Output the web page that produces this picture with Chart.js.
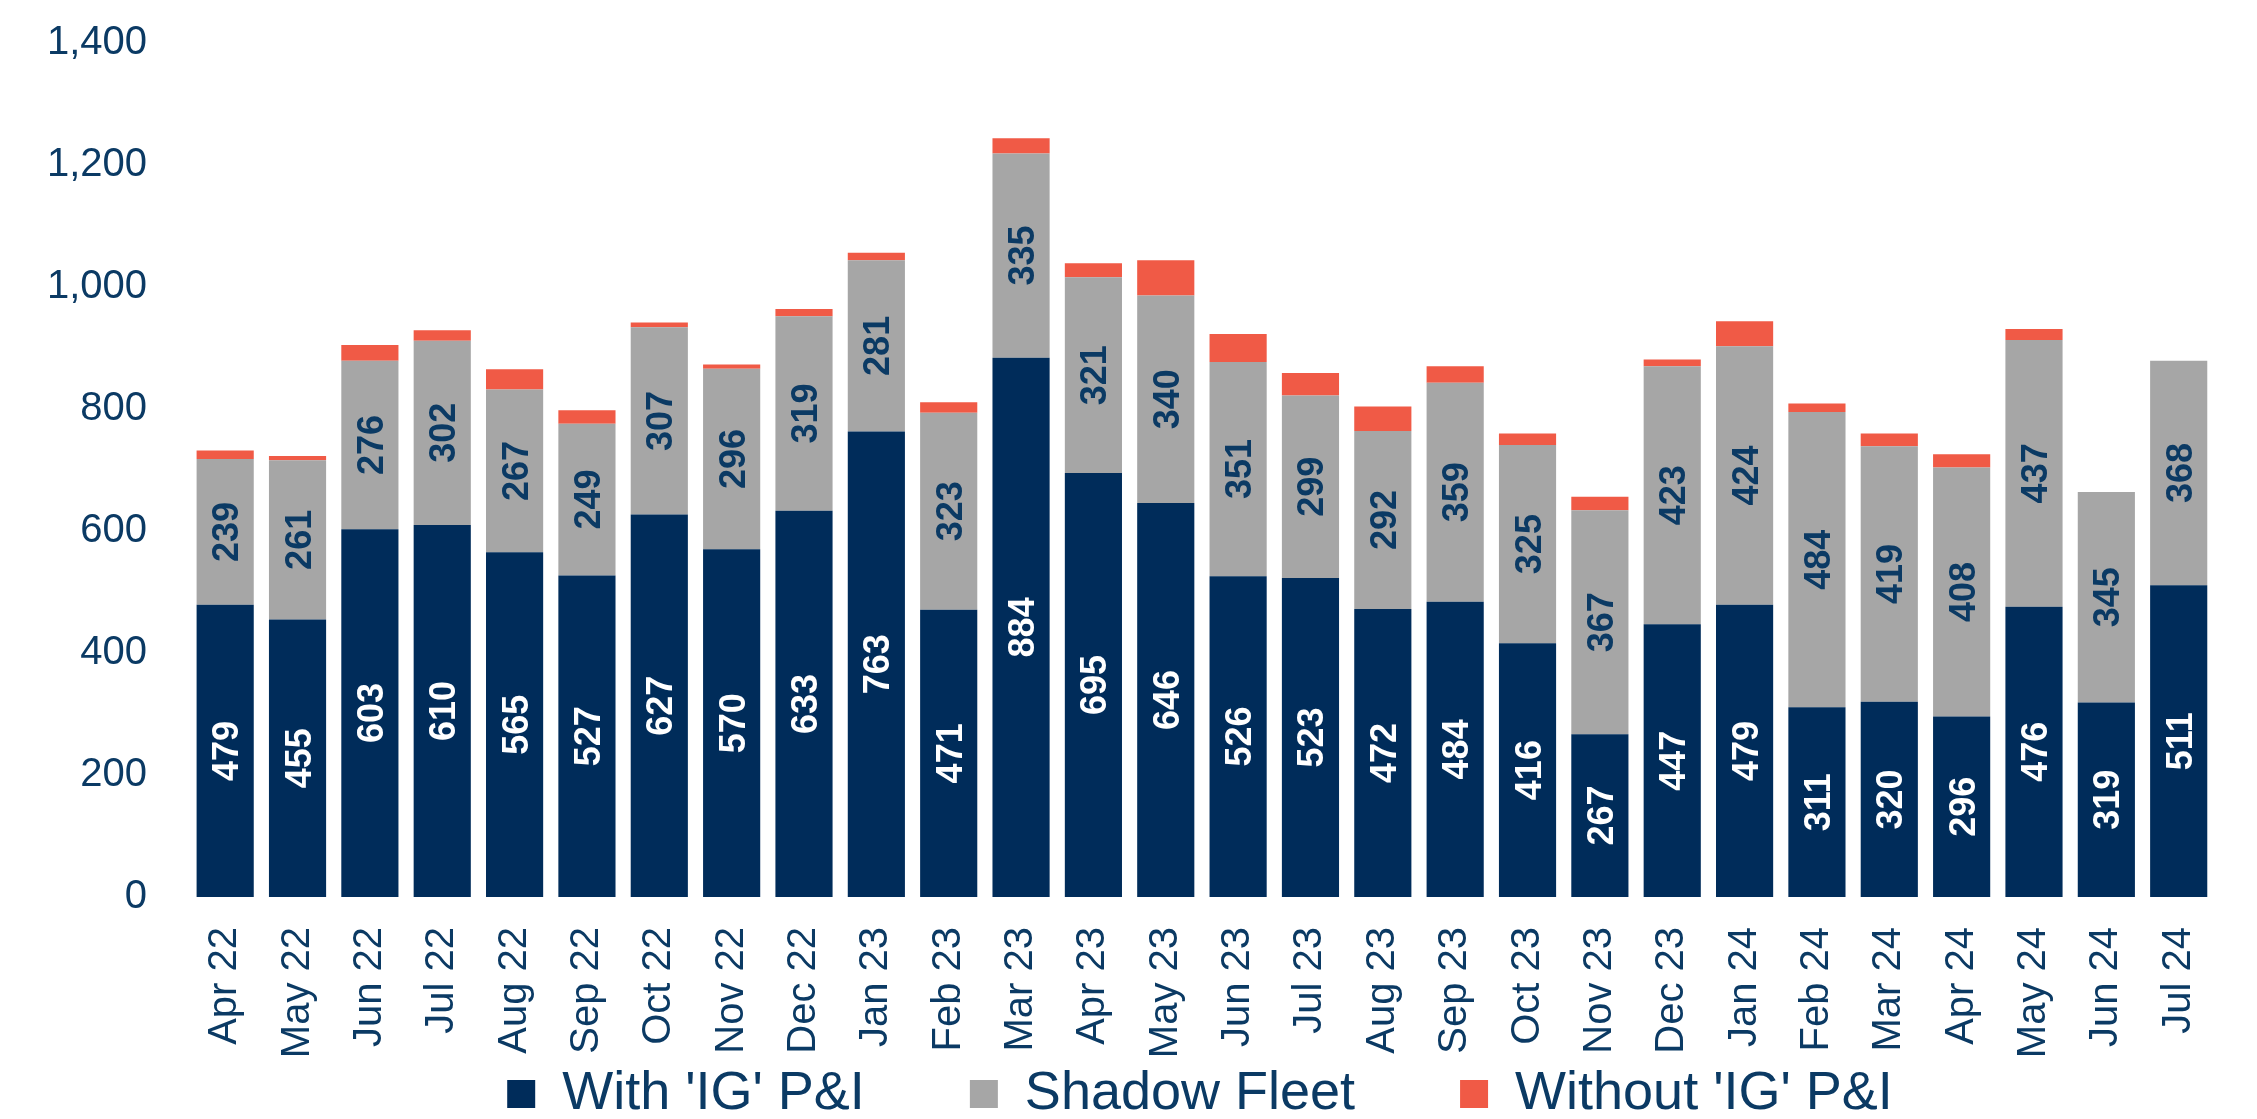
<!DOCTYPE html>
<html>
<head>
<meta charset="utf-8">
<script src="https://cdn.jsdelivr.net/npm/chart.js@4/dist/chart.umd.min.js"></script>
<style>
  html, body { margin: 0; padding: 0; background: #fff; overflow: hidden; }
  #wrap { width: 2257px; height: 1119px; position: relative; }
</style>
</head>
<body>
<div id="wrap"><canvas id="fleetChart"></canvas></div>
<script>
const months = ["Apr 22", "May 22", "Jun 22", "Jul 22", "Aug 22", "Sep 22", "Oct 22", "Nov 22", "Dec 22",
  "Jan 23", "Feb 23", "Mar 23", "Apr 23", "May 23", "Jun 23", "Jul 23", "Aug 23", "Sep 23", "Oct 23", "Nov 23", "Dec 23",
  "Jan 24", "Feb 24", "Mar 24", "Apr 24", "May 24", "Jun 24", "Jul 24"];
const withIG = [479, 455, 603, 610, 565, 527, 627, 570, 633, 763, 471, 884, 695, 646, 526, 523, 472, 484, 416, 267, 447, 479, 311, 320, 296, 476, 319, 511];
const shadowFleet = [239, 261, 276, 302, 267, 249, 307, 296, 319, 281, 323, 335, 321, 340, 351, 299, 292, 359, 325, 367, 423, 424, 484, 419, 408, 437, 345, 368];
const withoutIG = [14, 7, 26, 17, 33, 22, 8, 7, 12, 12, 17, 25, 23, 58, 46, 37, 40, 27, 19, 22, 11, 41, 14, 21, 22, 18, 0, 0];

const navy = "#002c5a";
const grey = "#a6a6a6";
const red = "#f05a46";
const textNavy = "#0b3a64";
const font = '"Liberation Sans", Arial, sans-serif';

// values written inside the navy and grey segments
const barLabels = {
  id: "barLabels",
  afterDatasetsDraw(chart) {
    const ctx = chart.ctx;
    [0, 1].forEach(di => {
      const meta = chart.getDatasetMeta(di);
      meta.data.forEach((bar, i) => {
        const v = chart.data.datasets[di].data[i];
        if (!v) return;
        const p = bar.getProps(["x", "y", "base"], true);
        ctx.save();
        ctx.translate(p.x, (p.y + p.base) / 2);
        ctx.rotate(-Math.PI / 2);
        ctx.font = "bold 36px " + font;
        ctx.fillStyle = di === 0 ? "#ffffff" : textNavy;
        ctx.textAlign = "center";
        ctx.textBaseline = "alphabetic";
        ctx.fillText(String(v), 0, 13);
        ctx.restore();
      });
    });
  }
};

// nudge the legend to where the original sits, and let the month labels run into the space below the axis
const legendShift = {
  id: "legendShift",
  afterLayout(chart) {
    const lg = chart.legend;
    lg.top += 12; lg.bottom += 12;
    lg.left += 80; lg.right += 80;
    chart.scales.x.bottom = chart.height;
  }
};

new Chart(document.getElementById("fleetChart"), {
  type: "bar",
  data: {
    labels: months,
    datasets: [
      { label: "With 'IG' P&I", data: withIG, backgroundColor: navy },
      { label: "Shadow Fleet", data: shadowFleet, backgroundColor: grey },
      { label: "Without 'IG' P&I", data: withoutIG, backgroundColor: red }
    ]
  },
  options: {
    responsive: true,
    maintainAspectRatio: false,
    animation: false,
    datasets: { bar: { categoryPercentage: 1, barPercentage: 0.79 } },
    layout: { padding: { top: 43, right: 17, left: 0, bottom: 0 } },
    plugins: {
      tooltip: { enabled: false },
      legend: {
        position: "bottom",
        labels: {
          boxWidth: 28,
          boxHeight: 28,
          padding: 105,
          color: textNavy,
          font: { family: font, size: 54 }
        }
      }
    },
    scales: {
      x: {
        stacked: true,
        grid: { display: false, drawTicks: false },
        border: { display: false },
        ticks: {
          autoSkip: false,
          minRotation: 90,
          maxRotation: 90,
          padding: 30,
          color: textNavy,
          font: { family: font, size: 40 }
        },
        afterFit(s) { s.height = 222 - s.chart.legend.height; }
      },
      y: {
        stacked: true,
        min: 0,
        max: 1400,
        grid: { display: false, drawTicks: false },
        border: { display: false },
        ticks: {
          stepSize: 200,
          padding: 42,
          color: textNavy,
          font: { family: font, size: 40 },
          callback: v => v.toLocaleString("en-US")
        },
        afterFit(s) {
          s.width = 189;
          s.paddingTop = 0;
          s.paddingBottom = 0;
        }
      }
    }
  },
  plugins: [barLabels, legendShift]
});
</script>
</body>
</html>
